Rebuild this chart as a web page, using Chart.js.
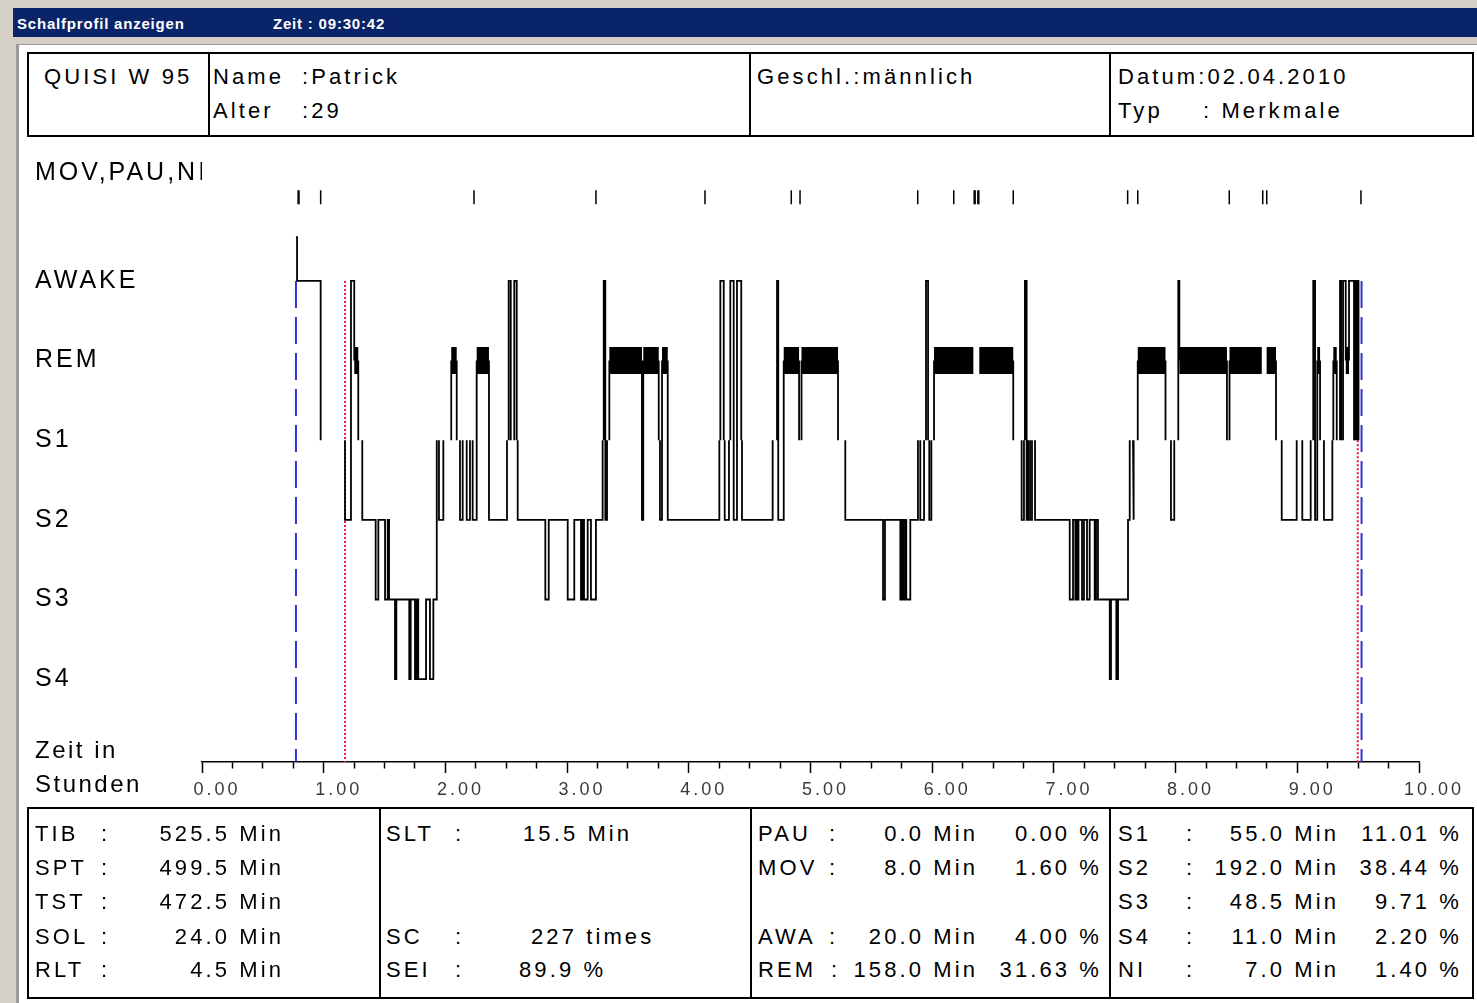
<!DOCTYPE html>
<html lang="de">
<head>
<meta charset="utf-8">
<title>Schalfprofil anzeigen</title>
<script src="https://cdn.jsdelivr.net/npm/chart.js@4.4.1/dist/chart.umd.min.js"></script>
<style>
  body { margin: 0; width: 1477px; height: 1003px; overflow: hidden; position: relative;
         background: #d4d0c8; font-family: 'Liberation Sans', Arial, sans-serif; color: #000; }
  #titlebar { position: absolute; left: 13px; top: 8px; width: 1464px; height: 29px; background: #0a246a; }
  #titlebar span { position: absolute; top: 7px; color: #fff; white-space: pre;
                   font: bold 15px 'Liberation Sans', Arial, sans-serif; letter-spacing: 0.8px; }
  #panel { position: absolute; left: 16px; top: 44px; width: 1461px; height: 959px; background: #fff;
           border-left: 3px solid #9c9a94; border-top: 1px solid #9c9a94; box-sizing: border-box; }
  .box { position: absolute; border: 2px solid #000; box-sizing: border-box; }
  .vl { position: absolute; width: 2px; background: #000; }
  .t { position: absolute; white-space: pre; font-size: 22px; line-height: 26px; letter-spacing: 3.1px; }
  .big { font-size: 24px; line-height: 28px; letter-spacing: 2.5px; }
  #chart { position: absolute; left: 28px; top: 145px; }
</style>
</head>
<body>
<div id="titlebar">
  <span style="left:4px">Schalfprofil anzeigen</span>
  <span style="left:260px">Zeit : 09:30:42</span>
</div>
<div id="panel"></div>

<!-- header table -->
<div class="box" style="left:27px;top:52px;width:1447px;height:85px"></div>
<div class="vl" style="left:208px;top:52px;height:85px"></div>
<div class="vl" style="left:749px;top:52px;height:85px"></div>
<div class="vl" style="left:1109px;top:52px;height:85px"></div>
<span class="t" style="left:44px;top:64px">QUISI W 95</span>
<span class="t" style="left:213px;top:64px">Name</span>
<span class="t" style="left:302px;top:64px">:Patrick</span>
<span class="t" style="left:213px;top:98px">Alter</span>
<span class="t" style="left:302px;top:98px">:29</span>
<span class="t" style="left:757px;top:64px">Geschl.:männlich</span>
<span class="t" style="left:1118px;top:64px">Datum:02.04.2010</span>
<span class="t" style="left:1118px;top:98px">Typ</span>
<span class="t" style="left:1203px;top:98px">: Merkmale</span>

<canvas id="chart" width="1445" height="657"></canvas>

<span class="t big" style="left:35px;top:736px">Zeit in</span>
<span class="t big" style="left:35px;top:770px">Stunden</span>

<!-- statistics table -->
<div class="box" style="left:27px;top:807px;width:1447px;height:192px"></div>
<div class="vl" style="left:379px;top:807px;height:192px"></div>
<div class="vl" style="left:750px;top:807px;height:192px"></div>
<div class="vl" style="left:1109px;top:807px;height:192px"></div>

<span class="t" style="left:35px;top:821px">TIB</span><span class="t" style="left:101px;top:821px">:</span><span class="t" style="right:1193px;top:821px">525.5 Min</span>
<span class="t" style="left:35px;top:855px">SPT</span><span class="t" style="left:101px;top:855px">:</span><span class="t" style="right:1193px;top:855px">499.5 Min</span>
<span class="t" style="left:35px;top:889px">TST</span><span class="t" style="left:101px;top:889px">:</span><span class="t" style="right:1193px;top:889px">472.5 Min</span>
<span class="t" style="left:35px;top:924px">SOL</span><span class="t" style="left:101px;top:924px">:</span><span class="t" style="right:1193px;top:924px">24.0 Min</span>
<span class="t" style="left:35px;top:957px">RLT</span><span class="t" style="left:101px;top:957px">:</span><span class="t" style="right:1193px;top:957px">4.5 Min</span>

<span class="t" style="left:386px;top:821px">SLT</span><span class="t" style="left:455px;top:821px">:</span><span class="t" style="left:523px;top:821px">15.5 Min</span>
<span class="t" style="left:386px;top:924px">SC</span><span class="t" style="left:455px;top:924px">:</span><span class="t" style="left:531px;top:924px">227 times</span>
<span class="t" style="left:386px;top:957px">SEI</span><span class="t" style="left:455px;top:957px">:</span><span class="t" style="left:519px;top:957px">89.9 %</span>

<span class="t" style="left:758px;top:821px">PAU</span><span class="t" style="left:829px;top:821px">:</span><span class="t" style="right:499px;top:821px">0.0 Min</span><span class="t" style="right:375px;top:821px">0.00 %</span>
<span class="t" style="left:758px;top:855px">MOV</span><span class="t" style="left:829px;top:855px">:</span><span class="t" style="right:499px;top:855px">8.0 Min</span><span class="t" style="right:375px;top:855px">1.60 %</span>
<span class="t" style="left:758px;top:924px">AWA</span><span class="t" style="left:829px;top:924px">:</span><span class="t" style="right:499px;top:924px">20.0 Min</span><span class="t" style="right:375px;top:924px">4.00 %</span>
<span class="t" style="left:758px;top:957px">REM</span><span class="t" style="left:831px;top:957px">:</span><span class="t" style="right:499px;top:957px">158.0 Min</span><span class="t" style="right:375px;top:957px">31.63 %</span>

<span class="t" style="left:1118px;top:821px">S1</span><span class="t" style="left:1186px;top:821px">:</span><span class="t" style="right:138px;top:821px">55.0 Min</span><span class="t" style="right:15px;top:821px">11.01 %</span>
<span class="t" style="left:1118px;top:855px">S2</span><span class="t" style="left:1186px;top:855px">:</span><span class="t" style="right:138px;top:855px">192.0 Min</span><span class="t" style="right:15px;top:855px">38.44 %</span>
<span class="t" style="left:1118px;top:889px">S3</span><span class="t" style="left:1186px;top:889px">:</span><span class="t" style="right:138px;top:889px">48.5 Min</span><span class="t" style="right:15px;top:889px">9.71 %</span>
<span class="t" style="left:1118px;top:924px">S4</span><span class="t" style="left:1186px;top:924px">:</span><span class="t" style="right:138px;top:924px">11.0 Min</span><span class="t" style="right:15px;top:924px">2.20 %</span>
<span class="t" style="left:1118px;top:957px">NI</span><span class="t" style="left:1186px;top:957px">:</span><span class="t" style="right:138px;top:957px">7.0 Min</span><span class="t" style="right:15px;top:957px">1.40 %</span>

<script>
/* Hypnogram (Schlafprofil) — QUISI W 95 */

// y axis rows
const stageTickValues = [1, 2, 3, 4, 5, 6, 7.36];
const stageTickLabels = ['S4', 'S3', 'S2', 'S1', 'REM', 'AWAKE', 'MOV,PAU,NI'];
// X = movement at start, W = awake, R = REM, M = movement inside REM, 1..4 = S1..S4
const stageLevel = { X: 6.55, W: 6, R: 5, M: 5, 1: 4, 2: 3, 3: 2, 4: 1 };

// stage changes: time in hours and the stage that starts there
const hypnoTimes = [
    0.772, 0.781, 0.975, 1.175, 1.224, 1.251, 1.284, 1.317, 1.427, 1.449,
    1.504, 1.526, 1.537, 1.586, 1.597, 1.703, 1.715, 1.750, 1.764, 1.777,
    1.841, 1.873, 1.901, 1.929, 1.947, 1.983, 2.048, 2.093, 2.120, 2.142,
    2.175, 2.202, 2.224, 2.257, 2.358, 2.506, 2.520, 2.537, 2.566, 2.586,
    2.594, 2.821, 2.849, 3.005, 3.059, 3.114, 3.127, 3.139, 3.169, 3.196,
    3.237, 3.292, 3.301, 3.314, 3.328, 3.347, 3.615, 3.626, 3.753, 3.763,
    3.780, 3.827, 4.251, 4.259, 4.287, 4.295, 4.330, 4.341, 4.369, 4.396,
    4.431, 4.437, 4.689, 4.725, 4.735, 4.780, 4.906, 4.926, 5.226, 5.286,
    5.596, 5.612, 5.738, 5.752, 5.762, 5.777, 5.787, 5.820, 5.883, 5.902,
    5.933, 5.949, 5.966, 5.976, 5.993, 6.015, 6.338, 6.387, 6.666, 6.735,
    6.754, 6.762, 6.776, 6.790, 6.804, 6.820, 6.845, 7.130, 7.157, 7.176,
    7.186, 7.194, 7.202, 7.231, 7.247, 7.272, 7.294, 7.335, 7.346, 7.362,
    7.459, 7.469, 7.513, 7.527, 7.609, 7.623, 7.650, 7.658, 7.689, 7.917,
    7.962, 7.989, 8.022, 8.031, 8.422, 8.443, 8.708, 8.748, 8.825, 8.872,
    8.995, 9.041, 9.110, 9.131, 9.146, 9.164, 9.187, 9.219, 9.288, 9.296,
    9.324, 9.351, 9.363, 9.376, 9.398, 9.425, 9.466, 9.474, 9.486, 9.495,
    9.503,
];
const hypnoStages = [
    'XW12WR1232', '3234343434', '343121R121', '212R21W1W1', '2323232323',
    '21W21R2R12', 'R21W121W2W', '121W2R1R12', '3232323212', '1W121RMR12',
    '1W21212323', '2323232323', '43432121R1', '21WR1RMR12', '121W2R121R',
    '1W1WRW1W1W', '1',
].join('').split('');
const hypnoEnd = 9.511;

// MOV / PAU / NI marks along the top row
const eventTimes = [
    0.790, 0.797, 0.975, 2.235, 3.237, 4.133, 4.842, 4.914, 5.881, 6.177,
    6.345, 6.353, 6.375, 6.383, 6.666, 7.606, 7.689, 8.441, 8.716, 8.749, 9.523,
];
const eventLevel = 7.05;

const lightsOff = 0.772;
const lightsOn = 9.528;
const sleepStart = 1.175;
const sleepEnd = 9.497;

const X_MIN = 0, X_MAX = 10, Y_MIN = -0.04, Y_MAX = 7.6;
const FONT = "'Liberation Sans', Arial, sans-serif";

// build the step path: one vertical and one horizontal piece per stage change
const hypnoPoints = [];
const pointStage = [];
hypnoTimes.forEach((t, i) => {
    if (i > 0) {
        hypnoPoints.push({ x: t, y: stageLevel[hypnoStages[i - 1]] });
        pointStage.push(hypnoStages[i - 1]);
    }
    hypnoPoints.push({ x: t, y: stageLevel[hypnoStages[i]] });
    pointStage.push(hypnoStages[i]);
});
const lastStage = hypnoStages[hypnoStages.length - 1];
hypnoPoints.push({ x: hypnoEnd, y: stageLevel[lastStage] });
pointStage.push(lastStage);

function flatStage(ctx) {
    const a = ctx.p0DataIndex, b = ctx.p1DataIndex;
    if (pointStage[a] !== pointStage[b]) return null;
    if (ctx.p0.parsed.y !== ctx.p1.parsed.y) return null;
    return pointStage[a];
}

function vline(x, yTop, color, dash, width) {
    return {
        data: [{ x: x, y: yTop }, { x: x, y: Y_MIN }],
        borderColor: color,
        borderWidth: width,
        borderDash: dash,
        pointRadius: 0,
        fill: false,
    };
}

const letterSpacing = {
    id: 'letterSpacing',
    beforeDraw(chart) { chart.ctx.letterSpacing = '3px'; },
};

new Chart(document.getElementById('chart'), {
    type: 'line',
    data: {
        datasets: [
            {
                data: hypnoPoints,
                borderColor: '#000',
                borderWidth: 1.8,
                borderCapStyle: 'butt',
                borderJoinStyle: 'miter',
                pointRadius: 0,
                tension: 0,
                fill: false,
                segment: {
                    borderColor: ctx => {
                        const s = flatStage(ctx);
                        return (s === '1' || s === 'M') ? 'rgba(0,0,0,0)' : undefined;
                    },
                    borderWidth: ctx => flatStage(ctx) === 'R' ? 27 : undefined,
                },
            },
            {
                data: eventTimes.map(t => ({ x: t, y: eventLevel })),
                showLine: false,
                pointStyle: 'line',
                pointRadius: 7,
                pointRotation: 90,
                pointBorderWidth: 1.5,
                pointBorderColor: '#000',
            },
            vline(lightsOff, stageLevel.W, '#3232d2', [27, 9], 2),
            vline(lightsOn, stageLevel.W, '#3232d2', [27, 9], 2),
            vline(sleepStart, stageLevel.W, '#e0183c', [2, 2], 2),
            vline(sleepEnd, stageLevel[1], '#e0183c', [2, 2], 2),
        ],
    },
    options: {
        responsive: false,
        animation: false,
        layout: { padding: { left: 7, top: 8, right: 54, bottom: 0 } },
        scales: {
            x: {
                type: 'linear',
                min: X_MIN,
                max: X_MAX,
                afterFit: s => { s.height = 40; s.paddingLeft = 0; s.paddingRight = 0; },
                ticks: {
                    stepSize: 0.25,
                    autoSkip: false,
                    maxRotation: 0,
                    labelOffset: 15,
                    padding: 6,
                    color: '#3a3a3a',
                    font: { family: FONT, size: 18 },
                    callback: v => Math.abs(v - Math.round(v)) < 1e-6 ? v.toFixed(2) : '',
                },
                grid: {
                    drawOnChartArea: false,
                    drawTicks: true,
                    tickLength: 11,
                    tickColor: '#000',
                    tickWidth: 1.5,
                    tickBorderDash: c => Math.abs(c.tick.value - Math.round(c.tick.value)) < 1e-6 ? [] : [6, 30],
                },
                border: { display: true, color: '#000', width: 1.5 },
            },
            y: {
                type: 'linear',
                min: Y_MIN,
                max: Y_MAX,
                afterBuildTicks: s => { s.ticks = stageTickValues.map(v => ({ value: v })); },
                afterFit: s => { s.width = 167; s.paddingTop = 0; s.paddingBottom = 0; },
                ticks: {
                    crossAlign: 'far',
                    padding: 0,
                    color: '#000',
                    font: { family: FONT, size: 25 },
                    callback: (v, i) => stageTickLabels[i],
                },
                grid: { display: false },
                border: { display: false },
            },
        },
        plugins: {
            legend: { display: false },
            tooltip: { enabled: false },
        },
    },
    plugins: [letterSpacing],
});
</script>
</body>
</html>
